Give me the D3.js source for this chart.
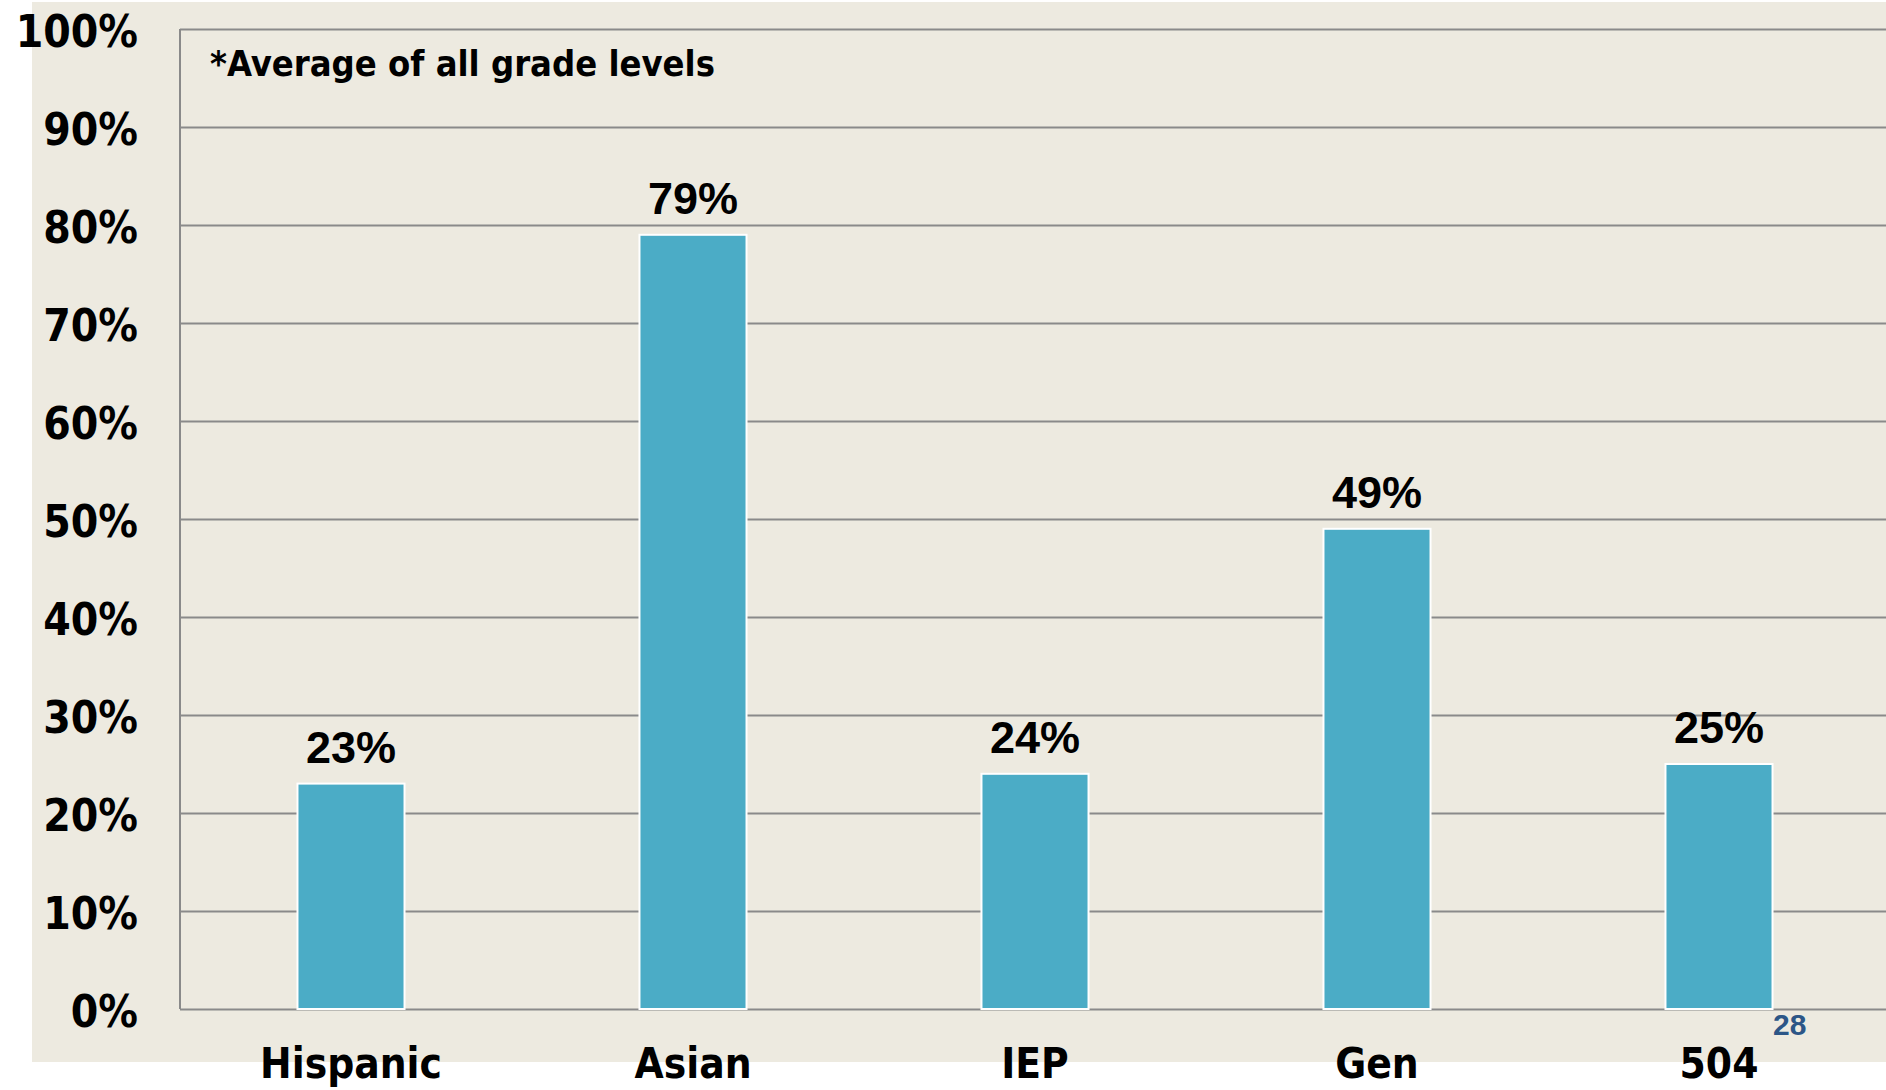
<!DOCTYPE html>
<html>
<head>
<meta charset="utf-8">
<script src="https://cdn.jsdelivr.net/npm/d3@7"></script>
<style>
body { margin: 0; background: #fff; }
</style>
</head>
<body>
<svg></svg>
<script>
var categories = ["Hispanic", "Asian", "IEP", "Gen", "504"];
var values = [0.23, 0.79, 0.24, 0.49, 0.25];
var tickValues = [0, 0.1, 0.2, 0.3, 0.4, 0.5, 0.6, 0.7, 0.8, 0.9, 1.0];
var note = "*Average of all grade levels";
var pageNumber = "28";

var width = 1886;
var height = 1090;
var left = 180;
var top0 = 29;
var bottom0 = 1009;

var svg = d3.select("svg")
    .attr("width", width)
    .attr("height", height);

// beige panel
svg.append("rect")
    .attr("x", 32)
    .attr("y", 2)
    .attr("width", width - 32)
    .attr("height", 1060)
    .attr("fill", "#edeae0");

var yScale = d3.scaleLinear()
    .domain([0, 1])
    .range([bottom0, top0]);

var xScale = d3.scaleBand()
    .domain(categories)
    .range([left, 1890])
    .paddingInner(0.687)
    .paddingOuter(0.3435);

var yAxis = d3.axisLeft(yScale)
    .tickValues(tickValues)
    .tickFormat(d3.format(".0%"))
    .tickSize(-(width - left))
    .tickPadding(42);

var gy = svg.append("g")
    .attr("transform", "translate(" + left + ",0)")
    .call(yAxis);

gy.select(".domain").remove();
gy.selectAll(".tick line")
    .attr("stroke", "#8a8a8a")
    .attr("stroke-width", 2);
gy.selectAll(".tick text")
    .attr("fill", "#000")
    .attr("dy", 17)
    .style("font-family", "'DejaVu Sans Condensed', 'DejaVu Sans'")
    .style("font-stretch", "condensed")
    .style("font-weight", "bold")
    .style("font-size", "44px");

// left axis line
svg.append("line")
    .attr("x1", left).attr("x2", left)
    .attr("y1", yScale(1)).attr("y2", yScale(0))
    .attr("stroke", "#8a8a8a")
    .attr("stroke-width", 2);

svg.selectAll("rect.bar")
    .data(values)
    .enter()
    .append("rect")
    .attr("class", "bar")
    .attr("x", (d, i) => xScale(categories[i]))
    .attr("y", d => yScale(d))
    .attr("width", xScale.bandwidth())
    .attr("height", d => yScale(0) - yScale(d))
    .attr("fill", "#4bacc6")
    .attr("stroke", "#fff")
    .attr("stroke-width", 2);

svg.selectAll("text.val")
    .data(values)
    .enter()
    .append("text")
    .attr("class", "val")
    .attr("x", (d, i) => xScale(categories[i]) + xScale.bandwidth() / 2)
    .attr("y", d => yScale(d) - 21)
    .attr("text-anchor", "middle")
    .style("font-family", "'Liberation Sans', Arial")
    .style("font-weight", "bold")
    .style("font-size", "45px")
    .text(d => Math.round(d * 100) + "%");

svg.selectAll("text.cat")
    .data(categories)
    .enter()
    .append("text")
    .attr("class", "cat")
    .attr("x", d => xScale(d) + xScale.bandwidth() / 2)
    .attr("y", 1078)
    .attr("text-anchor", "middle")
    .style("font-family", "'DejaVu Sans Condensed', 'DejaVu Sans'")
    .style("font-stretch", "condensed")
    .style("font-weight", "bold")
    .style("font-size", "42px")
    .text(d => d);

svg.append("text")
    .attr("x", 210)
    .attr("y", 76)
    .style("font-family", "'DejaVu Sans Condensed', 'DejaVu Sans'")
    .style("font-stretch", "condensed")
    .style("font-weight", "bold")
    .style("font-size", "36px")
    .text(note);

svg.append("text")
    .attr("x", 1773)
    .attr("y", 1035)
    .attr("fill", "#2c5687")
    .style("font-family", "'Liberation Sans', Arial")
    .style("font-weight", "bold")
    .style("font-size", "30px")
    .text(pageNumber);
</script>
</body>
</html>
